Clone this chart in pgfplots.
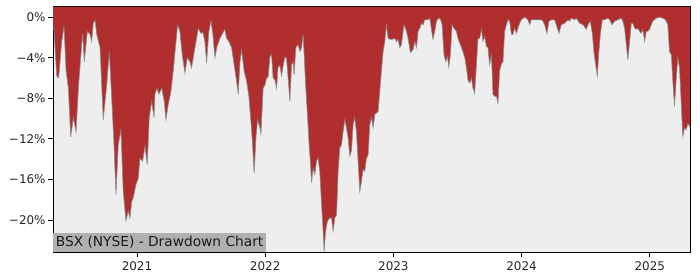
\documentclass[border=0pt]{standalone}
\usepackage{fontspec}
\setmainfont{DejaVu Sans}
\usepackage{pgfplots}
\pgfplotsset{compat=1.18}
\usepackage{pgfplotstable}
\usepgfplotslibrary{fillbetween}
\definecolor{ddred}{RGB}{176,46,46}
\definecolor{bgc}{RGB}{238,238,238}
\definecolor{boxc}{RGB}{176,176,176}
\definecolor{edgec}{RGB}{140,140,140}

\pgfplotstableread{
x dd
2020.345 -1.0
2020.353 -1.3
2020.374 -5.8
2020.387 -6.0
2020.394 -5.3
2020.413 -2.4
2020.431 -0.9
2020.447 -5.3
2020.465 -7.0
2020.483 -11.8
2020.504 -9.9
2020.525 -11.3
2020.543 -7.0
2020.569 -2.7
2020.577 -1.6
2020.589 -4.4
2020.613 -1.4
2020.634 -1.7
2020.647 -2.4
2020.659 -0.6
2020.673 -0.3
2020.686 -1.7
2020.712 -3.0
2020.737 -10.1
2020.764 -6.7
2020.784 -3.4
2020.803 -8.0
2020.821 -12.6
2020.836 -17.5
2020.854 -12.6
2020.875 -11.1
2020.893 -17.2
2020.914 -20.1
2020.932 -19.1
2020.945 -19.8
2020.959 -18.2
2020.971 -17.8
2020.992 -16.5
2021.010 -15.9
2021.023 -13.9
2021.044 -14.2
2021.062 -12.7
2021.080 -14.5
2021.096 -9.9
2021.115 -8.3
2021.133 -9.9
2021.140 -7.6
2021.156 -7.0
2021.171 -7.6
2021.193 -7.0
2021.213 -8.3
2021.226 -10.1
2021.244 -8.6
2021.265 -7.3
2021.283 -5.3
2021.302 -2.7
2021.317 -0.75
2021.335 -1.4
2021.353 -3.7
2021.374 -5.5
2021.392 -4.0
2021.413 -4.4
2021.426 -5.0
2021.447 -3.4
2021.465 -2.1
2021.478 -1.1
2021.499 -1.6
2021.514 -1.5
2021.530 -2.4
2021.543 -4.5
2021.561 -1.4
2021.577 -0.35
2021.592 -1.7
2021.608 -4.0
2021.624 -2.9
2021.647 -2.1
2021.668 -1.6
2021.686 -1.2
2021.699 -2.1
2021.717 -2.4
2021.738 -3.0
2021.758 -4.7
2021.777 -6.3
2021.790 -7.6
2021.803 -4.5
2021.816 -3.2
2021.836 -5.3
2021.855 -6.3
2021.873 -7.8
2021.889 -10.3
2021.902 -12.6
2021.914 -15.4
2021.928 -11.9
2021.941 -10.1
2021.959 -10.9
2021.967 -11.5
2021.978 -8.6
2021.984 -7.0
2021.998 -6.7
2022.011 -6.0
2022.023 -5.9
2022.037 -3.9
2022.050 -3.7
2022.062 -6.0
2022.076 -6.2
2022.089 -7.0
2022.101 -4.9
2022.115 -4.8
2022.128 -5.8
2022.140 -4.8
2022.154 -3.9
2022.167 -4.1
2022.179 -6.0
2022.193 -8.3
2022.206 -4.7
2022.218 -4.4
2022.226 -5.7
2022.239 -3.0
2022.257 -2.7
2022.271 -3.4
2022.284 -3.0
2022.296 -1.7
2022.304 -3.7
2022.317 -7.0
2022.331 -9.9
2022.343 -12.6
2022.354 -14.5
2022.362 -16.3
2022.374 -14.9
2022.387 -15.5
2022.401 -14.2
2022.413 -13.9
2022.426 -15.2
2022.440 -18.5
2022.452 -21.1
2022.460 -23.1
2022.471 -21.1
2022.486 -20.1
2022.504 -19.8
2022.518 -19.8
2022.530 -21.1
2022.543 -19.8
2022.557 -19.5
2022.569 -15.2
2022.582 -12.9
2022.595 -12.6
2022.608 -11.3
2022.621 -10.1
2022.634 -10.9
2022.647 -11.9
2022.660 -13.7
2022.673 -13.2
2022.686 -10.6
2022.699 -9.9
2022.712 -11.3
2022.725 -14.2
2022.738 -17.2
2022.751 -16.2
2022.764 -15.0
2022.777 -15.2
2022.790 -13.9
2022.803 -13.6
2022.816 -10.6
2022.829 -9.9
2022.842 -10.9
2022.855 -9.6
2022.881 -9.3
2022.894 -7.3
2022.907 -5.3
2022.920 -3.4
2022.933 -2.4
2022.946 -0.75
2022.959 -2.1
2022.985 -2.2
2023.011 -2.1
2023.024 -2.4
2023.037 -2.2
2023.050 -3.0
2023.063 -2.7
2023.083 -0.75
2023.102 -1.4
2023.115 -2.1
2023.133 -3.5
2023.154 -3.2
2023.167 -2.4
2023.180 -3.0
2023.193 -1.4
2023.206 -1.1
2023.219 -0.6
2023.232 -0.75
2023.245 -0.26
2023.271 -0.26
2023.284 -0.1
2023.297 -1.2
2023.309 -2.2
2023.323 -1.4
2023.336 -0.4
2023.354 -0.1
2023.369 -0.26
2023.380 -0.75
2023.395 -3.7
2023.408 -4.4
2023.422 -3.9
2023.432 -4.9
2023.445 -3.7
2023.458 -0.75
2023.473 -1.1
2023.492 -1.4
2023.504 -2.1
2023.531 -3.0
2023.543 -3.4
2023.557 -4.0
2023.570 -5.0
2023.582 -6.2
2023.596 -6.5
2023.609 -6.0
2023.621 -7.0
2023.634 -7.5
2023.648 -4.7
2023.660 -2.1
2023.673 -2.1
2023.687 -1.2
2023.699 -2.4
2023.712 -1.9
2023.726 -2.9
2023.738 -3.0
2023.751 -4.7
2023.765 -3.7
2023.777 -7.6
2023.790 -7.8
2023.804 -7.8
2023.816 -8.5
2023.829 -5.3
2023.843 -4.6
2023.855 -4.4
2023.868 -1.4
2023.882 -0.75
2023.894 -0.26
2023.907 -0.4
2023.921 -1.7
2023.933 -1.7
2023.946 -1.1
2023.960 -1.6
2023.972 -1.1
2023.985 -0.6
2023.998 -0.26
2024.024 0.0
2024.050 -0.26
2024.063 -0.75
2024.076 -0.26
2024.102 -0.26
2024.128 -0.26
2024.154 -0.26
2024.167 -0.4
2024.180 -0.75
2024.198 -1.6
2024.214 -0.4
2024.232 -0.26
2024.258 -0.26
2024.271 -0.75
2024.292 -1.6
2024.310 -0.75
2024.336 -0.6
2024.362 -0.26
2024.375 -0.4
2024.388 -0.1
2024.414 -0.26
2024.427 -0.1
2024.453 -0.6
2024.479 -0.75
2024.505 -1.2
2024.518 -0.75
2024.536 -0.4
2024.552 -1.6
2024.564 -3.4
2024.578 -4.7
2024.591 -5.8
2024.603 -3.4
2024.617 -1.4
2024.630 -0.26
2024.648 -0.26
2024.673 -0.1
2024.687 -0.26
2024.705 -0.75
2024.726 -0.4
2024.751 -0.26
2024.778 -0.1
2024.790 -0.4
2024.804 -1.1
2024.817 -2.7
2024.829 -4.2
2024.843 -2.4
2024.856 -0.6
2024.868 -0.6
2024.882 -1.1
2024.895 -1.2
2024.907 -1.1
2024.921 -1.4
2024.934 -1.6
2024.946 -1.2
2024.960 -2.4
2024.973 -1.4
2024.985 -1.4
2024.998 -1.2
2025.012 -0.75
2025.024 -0.4
2025.051 -0.1
2025.076 0.0
2025.102 -0.1
2025.123 -0.26
2025.141 -0.75
2025.154 -3.4
2025.168 -3.7
2025.180 -6.3
2025.193 -8.8
2025.207 -6.0
2025.219 -4.0
2025.232 -5.0
2025.246 -8.6
2025.258 -11.8
2025.271 -10.9
2025.285 -11.1
2025.297 -10.5
2025.314 -10.8
}\ddtable

\begin{document}
\begin{tikzpicture}
\begin{axis}[
  name=main,
  scale only axis,
  width=637bp, height=245.5bp,
  xmin=2020.345, xmax=2025.314,
  ymin=-23.2, ymax=1.0,
  axis background/.style={fill=bgc},
  axis line style={line width=1bp},
  tick pos=left,
  tick align=outside,
  major tick length=4.9bp,
  tick style={line width=0.8bp, black},
  xtick={2021,2022,2023,2024,2025},
  xticklabels={2021,2022,2023,2024,2025},
  ytick={-20,-16,-12,-8,-4,0},
  yticklabels={−20\%,−16\%,−12\%,−8\%,−4\%,0\%},
  ticklabel style={font=\fontsize{12}{13}\selectfont, text=black!85},
  yticklabel style={xshift=1bp},
  xticklabel style={yshift=-1bp},
  clip=true,
]
\addplot[draw=none, name path=dd] table[x=x, y=dd] {\ddtable};
\addplot[draw=none, name path=top] coordinates {(2020.345,1.0) (2025.314,1.0)};
\addplot[fill=ddred, draw=none] fill between[of=dd and top];
\addplot[edgec, line width=0.6bp] table[x=x, y=dd] {\ddtable};
\node[anchor=south west, fill=boxc, inner xsep=2.7bp, inner ysep=3bp,
      text height=11.1bp, text depth=2.5bp,
      font=\fontsize{13.8}{15}\selectfont, text=black!90]
  at (rel axis cs:0,0) {BSX (NYSE) - Drawdown Chart};
\end{axis}
\path ([xshift=-53bp, yshift=-27.5bp]main.south west) rectangle ([xshift=10bp, yshift=7bp]main.north east);
\end{tikzpicture}
\end{document}
